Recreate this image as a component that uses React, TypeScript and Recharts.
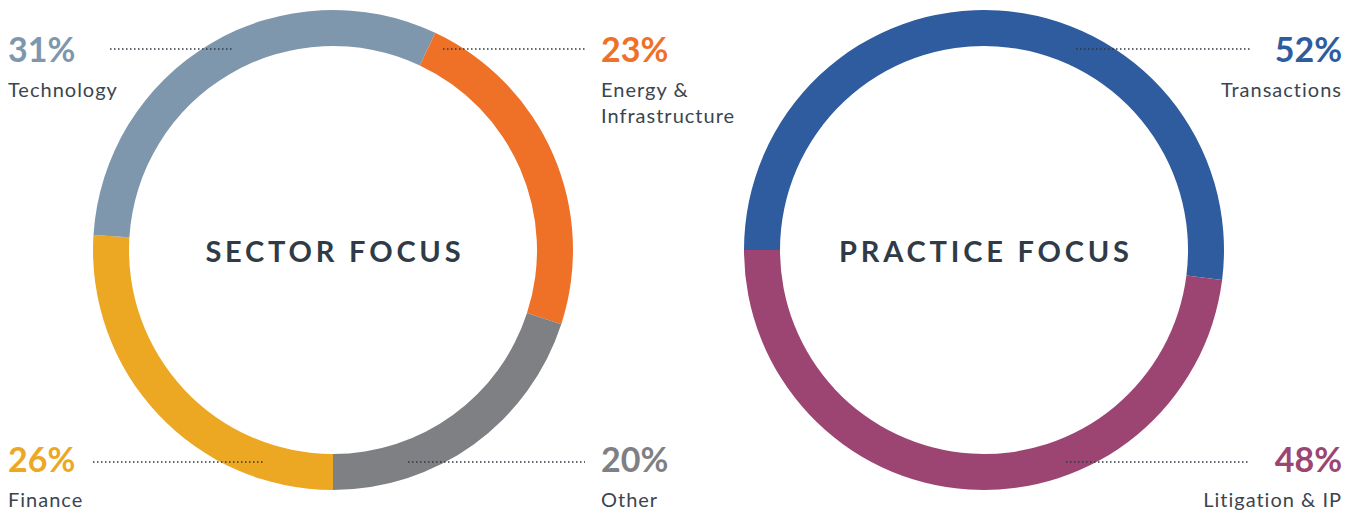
import { PieChart, Pie, Cell } from 'recharts';

const sectorNames = ['Finance', 'Technology', 'Energy & Infrastructure', 'Other'];
const sectorValues = [26, 31, 23, 20];
const sectorColors = ['#ECA823', '#7F97AD', '#EE7127', '#7F8083'];

const practiceNames = ['Transactions', 'Litigation & IP'];
const practiceValues = [52, 48];
const practiceColors = ['#2F5C9E', '#9C4573'];

const sectorData = sectorNames.map((name, i) => ({ name, value: sectorValues[i] }));
const practiceData = practiceNames.map((name, i) => ({ name, value: practiceValues[i] }));

const TEXT = '#3A4550';
const FONT = 'Lato, "Open Sans", sans-serif';

const titles = [
  { text: 'SECTOR FOCUS', cx: 333 },
  { text: 'PRACTICE FOCUS', cx: 984 },
];

// callout layout per slice: leader line, text position, name lines
const callouts = [
  { src: 'sector', idx: 1, x1: 110, x2: 232, y: 49, tx: 8, anchor: 'start', py: 62, lines: ['Technology'] },
  { src: 'sector', idx: 2, x1: 443, x2: 585, y: 49, tx: 601, anchor: 'start', py: 62, lines: ['Energy &', 'Infrastructure'] },
  { src: 'sector', idx: 0, x1: 93, x2: 265, y: 462, tx: 8, anchor: 'start', py: 472, lines: ['Finance'] },
  { src: 'sector', idx: 3, x1: 408, x2: 585, y: 462, tx: 601, anchor: 'start', py: 472, lines: ['Other'] },
  { src: 'practice', idx: 0, x1: 1076, x2: 1250, y: 49, tx: 1342, anchor: 'end', py: 62, lines: ['Transactions'] },
  { src: 'practice', idx: 1, x1: 1066, x2: 1250, y: 462, tx: 1342, anchor: 'end', py: 472, lines: ['Litigation & IP'] },
];

export default function App() {
  return (
    <div style={{ position: 'relative', width: 1356, height: 512, background: '#fff' }}>
      <style>{'body{margin:0}'}</style>
      <PieChart width={1356} height={512} margin={{ top: 0, right: 0, bottom: 0, left: 0 }}>
        <Pie data={sectorData} dataKey="value" cx={333} cy={250} innerRadius={204} outerRadius={240}
          startAngle={-90} endAngle={-450} stroke="none" isAnimationActive={false}>
          {sectorData.map((d, i) => <Cell key={d.name} fill={sectorColors[i]} />)}
        </Pie>
        <Pie data={practiceData} dataKey="value" cx={984} cy={250} innerRadius={204} outerRadius={240}
          startAngle={180} endAngle={-180} stroke="none" isAnimationActive={false}>
          {practiceData.map((d, i) => <Cell key={d.name} fill={practiceColors[i]} />)}
        </Pie>
      </PieChart>
      <svg width={1356} height={512} style={{ position: 'absolute', left: 0, top: 0, pointerEvents: 'none' }}>
        {titles.map((t) => (
          <text key={t.text} x={t.cx + 1.9} y={262} textAnchor="middle" fill="#2F3C48" fontFamily={FONT}
            fontWeight={700} fontSize={29} letterSpacing={3.8}>
            {t.text}
          </text>
        ))}
        {callouts.map((c, k) => {
          const values = c.src === 'sector' ? sectorValues : practiceValues;
          const colors = c.src === 'sector' ? sectorColors : practiceColors;
          return (
            <g key={k}>
              <line x1={c.x1} x2={c.x2} y1={c.y} y2={c.y} stroke="#2F3740" strokeWidth={1.6} strokeDasharray="1.5 2.5" />
              <text x={c.tx} y={c.py} textAnchor={c.anchor as any} fill={colors[c.idx]} fontFamily={FONT} fontWeight={700} fontSize={34}>
                {values[c.idx]}%
              </text>
              {c.lines.map((ln, j) => (
                <text key={j} x={c.tx} y={c.py + 35 + j * 26} textAnchor={c.anchor as any} fill={TEXT} fontFamily={FONT}
                  fontSize={20} letterSpacing={1}>
                  {ln}
                </text>
              ))}
            </g>
          );
        })}
      </svg>
    </div>
  );
}
